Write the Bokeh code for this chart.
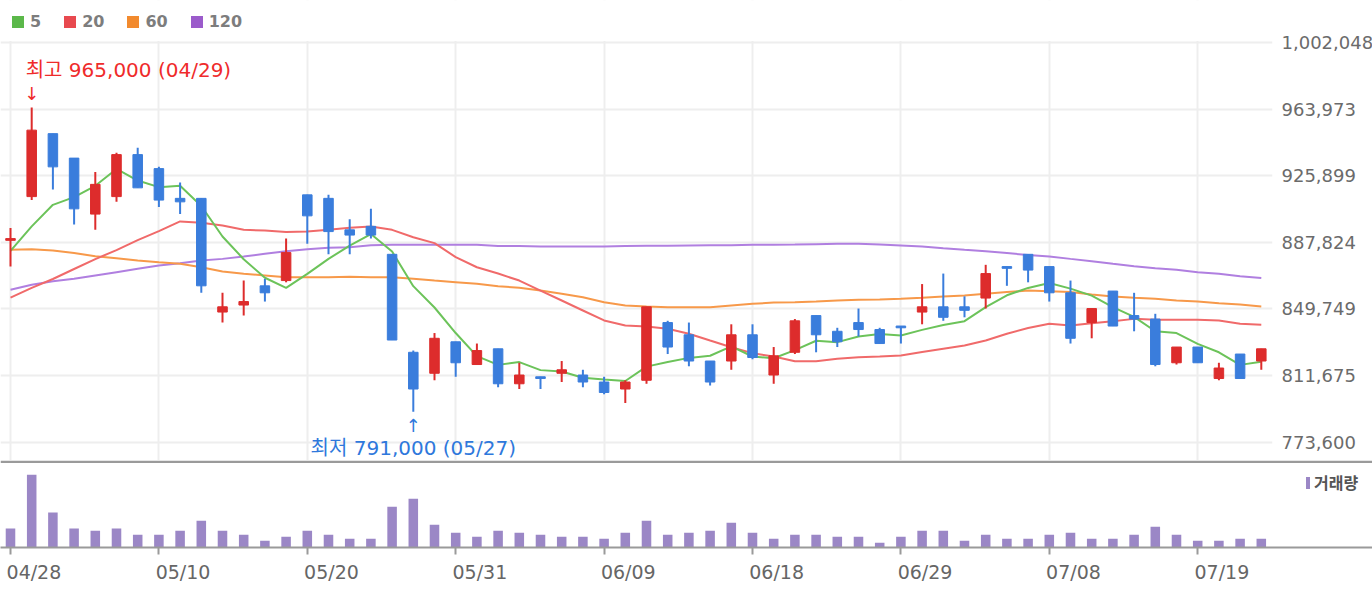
from bokeh.plotting import figure
from bokeh.layouts import column
from bokeh.models import (Range1d, FixedTicker, Legend, LegendItem, Span, BoxAnnotation,
                          NumeralTickFormatter, ColumnDataSource)
from bokeh.core.properties import value
from bokeh.embed import file_html
from bokeh.resources import INLINE

# ---- daily sessions -------------------------------------------------------
dates = ["04/28", "04/29", "04/30", "05/03", "05/04", "05/06", "05/07", "05/10",
         "05/11", "05/12", "05/13", "05/14", "05/17", "05/18", "05/20", "05/21",
         "05/24", "05/25", "05/26", "05/27", "05/28", "05/31", "06/01", "06/02",
         "06/03", "06/04", "06/07", "06/08", "06/09", "06/10", "06/11", "06/14",
         "06/15", "06/16", "06/17", "06/18", "06/21", "06/22", "06/23", "06/24",
         "06/25", "06/28", "06/29", "06/30", "07/01", "07/02", "07/05", "07/06",
         "07/07", "07/08", "07/09", "07/12", "07/13", "07/14", "07/15", "07/16",
         "07/19", "07/20", "07/21", "07/22"]

open_ = [889000, 914000, 950000, 936000, 904000, 914000, 938000, 930000, 913000, 913000,
         848000, 852000, 863000, 866000, 915000, 913000, 895000, 897000, 881000, 825000,
         813000, 831000, 818000, 827000, 807000, 811000, 813000, 812000, 808000, 804000,
         809000, 842000, 835000, 820000, 820000, 835000, 812000, 825000, 846000, 837000,
         842000, 838000, 840000, 848000, 851000, 851000, 856000, 874000, 881000, 874000,
         859000, 842000, 860000, 846000, 844000, 819000, 828000, 810000, 824000, 820000]
high = [896000, 965000, 950000, 936000, 928000, 939000, 942000, 931000, 922000, 913000,
        859000, 866000, 867000, 890000, 915000, 915000, 901000, 907000, 881000, 826000,
        836000, 831000, 830000, 827000, 819000, 811000, 820000, 815000, 811000, 809000,
        851000, 843000, 842000, 820000, 841000, 841000, 828000, 844000, 846000, 839000,
        850000, 839000, 840000, 864000, 870000, 857000, 875000, 874000, 881000, 874000,
        866000, 850000, 860000, 859000, 847000, 828000, 828000, 819000, 824000, 827000]
low = [874000, 912000, 918000, 898000, 895000, 911000, 919000, 908000, 904000, 859000,
       842000, 846000, 854000, 865000, 887000, 881000, 881000, 890000, 832000, 791000,
       809000, 811000, 818000, 805000, 804000, 804000, 808000, 805000, 801000, 796000,
       807000, 824000, 817000, 806000, 815000, 821000, 807000, 824000, 825000, 828000,
       834000, 830000, 830000, 841000, 843000, 845000, 850000, 863000, 865000, 854000,
       830000, 833000, 840000, 837000, 817000, 818000, 819000, 809000, 810000, 815000]
close = [890000, 952000, 931000, 907000, 921000, 938000, 919000, 912000, 911000, 863000,
         851000, 854000, 859000, 882000, 903000, 894000, 892000, 892000, 832000, 804000,
         833000, 819000, 826000, 807000, 812000, 810000, 815000, 808000, 802000, 808000,
         851000, 828000, 820000, 808000, 835000, 822000, 823000, 843000, 835000, 831000,
         838000, 830000, 839000, 851000, 845000, 849000, 870000, 873000, 872000, 859000,
         833000, 850000, 840000, 844000, 818000, 828000, 819000, 816000, 810000, 827000]

volume = [190000, 727000, 350000, 190000, 167000, 190000, 127000, 127000, 167000, 267000,
          167000, 127000, 67000, 107000, 167000, 127000, 87000, 87000, 407000, 487000,
          227000, 147000, 107000, 167000, 147000, 127000, 107000, 107000, 87000, 147000,
          267000, 127000, 147000, 167000, 247000, 147000, 87000, 127000, 127000, 107000,
          107000, 47000, 107000, 167000, 167000, 67000, 127000, 87000, 87000, 127000,
          147000, 87000, 87000, 127000, 207000, 127000, 67000, 67000, 87000, 87000]

# ---- moving averages ------------------------------------------------------
ma5 = [883000, 897000, 909300, 913700, 920200, 929800, 923200, 919400, 920200, 908600,
       891200, 878200, 867600, 861800, 869800, 878400, 886000, 892600, 882600, 862800,
       850600, 836000, 822800, 817800, 819400, 814800, 814000, 810400, 809400, 808600,
       816800, 819400, 821800, 823000, 828400, 822600, 821600, 826200, 831600, 830800,
       834000, 835400, 834600, 837800, 840600, 842800, 850800, 857600, 861800, 864600,
       861400, 857400, 850800, 845200, 837000, 836000, 829800, 825000, 817800, 819600]
ma20 = [856200, 861800, 866900, 872600, 878300, 883400, 889100, 894300, 899800, 899000,
        897500, 895000, 894600, 893700, 894100, 895000, 896200, 896900, 895000, 890800,
        887400, 879400, 873600, 870000, 866000, 860300, 854600, 848900, 843200, 840300,
        839700, 838400, 835600, 831700, 827900, 824500, 822600, 819900, 819900, 821300,
        822200, 822600, 823200, 825100, 827000, 828900, 831700, 835600, 838900, 841300,
        840300, 841600, 842800, 844100, 843600, 843600, 843600, 843200, 841300, 840700]
ma60 = [883600, 883900, 883200, 881700, 879900, 878800, 877500, 876500, 875600, 873600,
        871200, 869900, 868900, 867900, 867900, 867900, 868200, 867900, 867900, 867000,
        866000, 865100, 864200, 862800, 861900, 860300, 858400, 856500, 853600, 851800,
        851200, 850800, 850800, 850800, 851800, 852700, 853400, 853600, 854000, 854600,
        855000, 855200, 855600, 856200, 856900, 857500, 858400, 859400, 860300, 859900,
        859400, 858000, 856900, 856200, 855600, 854600, 854000, 853100, 852300, 851200]
ma120 = [860700, 863600, 865600, 867000, 868900, 870800, 872700, 874600, 875900, 877500,
         878400, 879800, 881300, 882800, 883900, 884700, 885100, 886200, 886500, 886500,
         886500, 886500, 886500, 885700, 885700, 885500, 885500, 885500, 885500, 885700,
         885900, 885900, 886100, 886200, 886200, 886500, 886500, 886600, 886800, 887000,
         887000, 886600, 886100, 885500, 884500, 883600, 882800, 881700, 880600, 879800,
         878400, 877100, 875600, 874200, 873100, 872200, 870800, 869900, 868500, 867400]

ma_labels = ["5", "20", "60", "120"]
price_ticks = [773600, 811675, 849749, 887824, 925899, 963973, 1002048]
date_tick_idx = [0, 7, 14, 21, 28, 35, 42, 49, 56]

# ---- layout constants -----------------------------------------------------
STEP = 21.2          # px per session
FIRST_X = 10         # px of first session
PRICE_W = 1272
FULL_W = 1372
PRICE_PER_PX = 571.69
HEADER_PX = 42       # key strip above the top price grid line
PRICE_FRAME_H = 460
VOL_PER_PX = 10000
VOL_FRAME_H = 87

UP, DOWN = "#dd2c2c", "#3a7ddc"
line_cols = ["#6cc35a", "#f06a6a", "#f7994a", "#b07fe0"]
key_cols = ["#5bb84a", "#e8494f", "#f28a2e", "#9b5bcb"]
GRID = "#eeeeee"
FONT = "DejaVu Sans"
MIXED = "DejaVu Sans, Noto Sans CJK KR"
NBSP = "\u00a0"

idx = list(range(len(dates)))
x_start = -FIRST_X / STEP
grid_top = 1002100
y_top = grid_top + HEADER_PX * PRICE_PER_PX
y_bottom = y_top - PRICE_FRAME_H * PRICE_PER_PX

src = ColumnDataSource(dict(
    x=idx, o=open_, h=high, l=low, c=close,
    top=[max(a, b) for a, b in zip(open_, close)],
    bot=[min(a, b) for a, b in zip(open_, close)],
    col=[UP if c >= o else DOWN for o, c in zip(open_, close)],
))

# ---- price panel ----------------------------------------------------------
p = figure(frame_width=PRICE_W, frame_height=PRICE_FRAME_H,
           min_border_left=0, min_border_right=100, min_border_top=0, min_border_bottom=0,
           x_range=Range1d(x_start, (PRICE_W - FIRST_X) / STEP),
           y_range=Range1d(y_bottom, y_top),
           x_axis_location=None, y_axis_location="right",
           output_backend="svg", toolbar_location=None)
p.outline_line_color = None
p.background_fill_color = "white"
p.border_fill_color = "white"

p.yaxis.ticker = FixedTicker(ticks=price_ticks)
p.yaxis.formatter = NumeralTickFormatter(format="0,0")
p.yaxis.axis_line_color = None
p.yaxis.major_tick_line_color = None
p.yaxis.minor_tick_line_color = None
p.yaxis.major_tick_out = 0
p.yaxis.major_tick_in = 0
p.yaxis.major_label_standoff = 9
p.yaxis.major_label_text_font = FONT
p.yaxis.major_label_text_font_size = "18px"
p.yaxis.major_label_text_color = "#6b6b6b"

p.ygrid.ticker = FixedTicker(ticks=price_ticks)
p.xgrid.ticker = FixedTicker(ticks=date_tick_idx)
p.grid.grid_line_color = GRID
p.grid.grid_line_width = 2

# keep the key strip clear of vertical grid lines
p.add_layout(BoxAnnotation(bottom=price_ticks[-1] + 1.6 * PRICE_PER_PX, top=None,
                           fill_color="white", fill_alpha=1, line_color=None))

# moving averages, longest period underneath
for vals, col in list(zip([ma5, ma20, ma60, ma120], line_cols))[::-1]:
    p.line(idx, vals, line_color=col, line_width=2)

p.segment(x0="x", y0="l", x1="x", y1="h", line_color="col", line_width=2, source=src)
p.vbar(x="x", width=0.45, top="top", bottom="bot", fill_color="col",
       line_color="col", line_width=1, source=src)

# highest / lowest markers
hi_i = max(idx, key=lambda i: high[i])
lo_i = min(idx, key=lambda i: low[i])
p.text(x=[hi_i], y=[high[hi_i]], text=[f"최고 {high[hi_i]:,} ({dates[hi_i]})"],
       text_font=value(MIXED), text_font_size="20px", text_color="#ef2b2b",
       text_align="left", text_baseline="middle", x_offset=-6, y_offset=-37)
p.text(x=[hi_i], y=[high[hi_i]], text=["↓"], text_font=value(FONT),
       text_font_size="18px", text_color="#ef2b2b",
       text_align="center", text_baseline="middle", y_offset=-14)
p.text(x=[lo_i], y=[low[lo_i]], text=[f"최저 {low[lo_i]:,} ({dates[lo_i]})"],
       text_font=value(MIXED), text_font_size="20px", text_color="#2e78dc",
       text_align="center", text_baseline="middle", y_offset=36)
p.text(x=[lo_i], y=[low[lo_i]], text=["↑"], text_font=value(FONT),
       text_font_size="18px", text_color="#2e78dc",
       text_align="center", text_baseline="middle", y_offset=14)

# moving-average key: square swatches from hidden bar renderers of each series
items = []
for lab, vals, col in zip(ma_labels, [ma5, ma20, ma60, ma120], key_cols):
    sw = p.vbar(x=idx, top=vals, width=0.1, fill_color=col, line_color=None, visible=False)
    items.append(LegendItem(label=lab, renderers=[sw]))
leg = Legend(items=items, orientation="horizontal",
             location=(10, PRICE_FRAME_H - 31),
             glyph_width=15, glyph_height=15, label_standoff=5, spacing=21,
             padding=0, margin=0, label_width=0, label_height=18,
             border_line_color=None, background_fill_alpha=0,
             label_text_font=FONT, label_text_font_size="16px",
             label_text_font_style="bold", label_text_color="#7d7d7d")
p.add_layout(leg)

# ---- volume panel ---------------------------------------------------------
v = figure(frame_width=FULL_W, frame_height=VOL_FRAME_H,
           min_border_left=0, min_border_right=0, min_border_top=0, min_border_bottom=59,
           x_range=Range1d(x_start, (FULL_W - FIRST_X) / STEP),
           y_range=Range1d(0, VOL_FRAME_H * VOL_PER_PX),
           y_axis_location=None, output_backend="svg", toolbar_location=None)
v.outline_line_color = None
v.grid.visible = False

vb = v.vbar(x=idx, top=volume, width=0.45, fill_color="#9b87c6", line_color=None)

# date labels start at their tick (padded so the centred label sits to the right;
# the first one is pushed inside the edge already)
v.xaxis.ticker = FixedTicker(ticks=date_tick_idx)
v.xaxis.major_label_overrides = {i: NBSP * (1 if i == 0 else 8) + dates[i]
                                 for i in date_tick_idx}
v.xaxis.axis_line_color = "#9a9a9a"
v.xaxis.axis_line_width = 2
v.xaxis.major_tick_line_color = "#9a9a9a"
v.xaxis.major_tick_line_width = 2
v.xaxis.major_tick_out = 7
v.xaxis.major_tick_in = 0
v.xaxis.minor_tick_line_color = None
v.xaxis.major_label_standoff = 6
v.xaxis.major_label_text_font = FONT
v.xaxis.major_label_text_font_size = "19px"
v.xaxis.major_label_text_color = "#666666"

v.add_layout(Span(location=(VOL_FRAME_H - 1.3) * VOL_PER_PX, dimension="width",
                  line_color="#9a9a9a", line_width=2.5))

vleg = Legend(items=[LegendItem(label="거래량", renderers=[vb])], location=(1305, 53),
              glyph_width=5, glyph_height=15, label_standoff=4, padding=0, margin=0,
              border_line_color=None, background_fill_alpha=0,
              label_text_font="Noto Sans CJK KR", label_text_font_size="16px",
              label_text_font_style="bold", label_text_color="#555555")
v.add_layout(vleg)

layout = column(p, v, spacing=0)
open("out.html", "w").write(file_html(layout, INLINE))
